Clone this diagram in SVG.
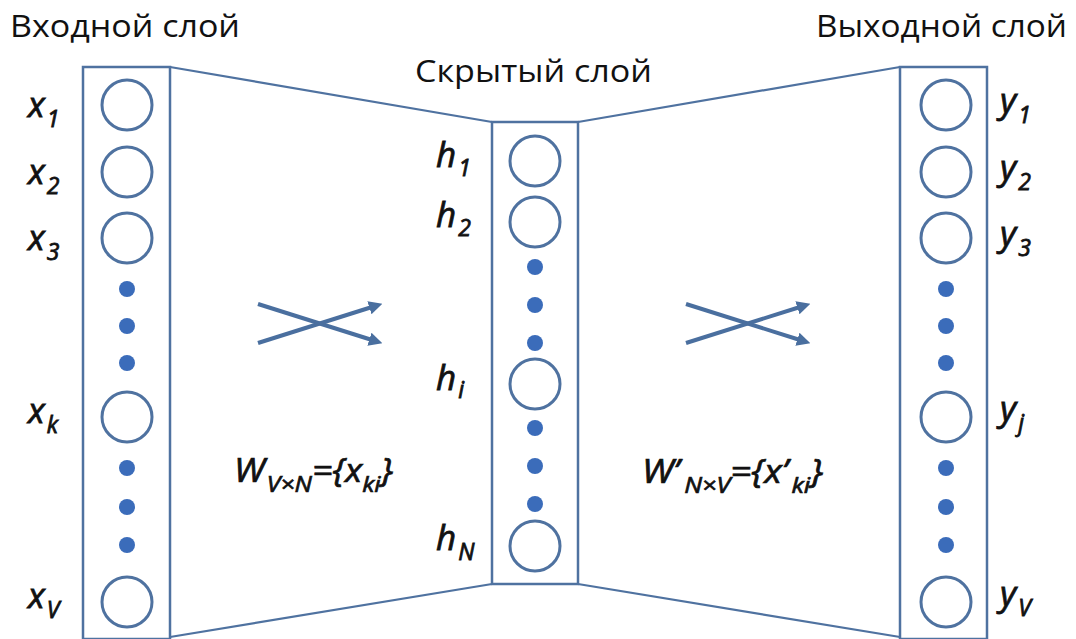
<svg xmlns="http://www.w3.org/2000/svg" width="1076" height="639" viewBox="0 0 1076 639">
<style>
.box{fill:none;stroke:#4f72a0;stroke-width:2.5}
.neuron{fill:#fff;stroke:#4f72a0;stroke-width:3}
.dot{fill:#3b6cba}
.conn{fill:none;stroke:#4f72a0;stroke-width:2.2}
.arr{fill:none;stroke:#4a6f9f;stroke-width:4;marker-end:url(#ah)}
.title{font-family:"Open Sans","Liberation Sans",sans-serif;font-size:31px;fill:#111}
.lab{font-family:"Open Sans","Liberation Sans",sans-serif;font-style:italic;font-size:35px;fill:#111;stroke:#111;stroke-width:0.8}
.sub{font-size:23px}
.f{font-family:"Open Sans","Liberation Sans",sans-serif;font-style:italic;font-size:32px;fill:#111;stroke:#111;stroke-width:0.7}
.fs{font-size:22px}
</style>
<defs>
<marker id="ah" viewBox="0 0 10 10" refX="2" refY="5" markerWidth="3.4" markerHeight="3.4" orient="auto" markerUnits="strokeWidth">
<path d="M0,0 L10,5 L0,10 z" fill="#4a6f9f"/>
</marker>
</defs>
<rect width="1076" height="639" fill="#fff"/>

<text class="title" x="10" y="37" textLength="230" lengthAdjust="spacingAndGlyphs">Входной слой</text>
<text class="title" x="415" y="82" textLength="237" lengthAdjust="spacingAndGlyphs">Скрытый слой</text>
<text class="title" x="816" y="37" textLength="251" lengthAdjust="spacingAndGlyphs">Выходной слой</text>

<g id="connectors">
<line class="conn" x1="170" y1="67" x2="492" y2="122"/>
<line class="conn" x1="170" y1="637" x2="492" y2="584"/>
<line class="conn" x1="578" y1="122" x2="900" y2="67"/>
<line class="conn" x1="578" y1="584" x2="900" y2="637"/>
<line class="arr" x1="258" y1="304" x2="372" y2="340"/>
<line class="arr" x1="258" y1="343" x2="372" y2="307"/>
<line class="arr" x1="686" y1="304" x2="800" y2="340"/>
<line class="arr" x1="686" y1="343" x2="800" y2="307"/>
</g>

<g id="input-layer">
<rect class="box" x="83" y="67" width="87" height="572"/>
<g id="x1"><circle class="neuron" cx="127" cy="105" r="25"/><text class="lab" x="28" y="117">x<tspan class="sub" dx="2" dy="10">1</tspan></text></g>
<g id="x2"><circle class="neuron" cx="127" cy="172" r="25"/><text class="lab" x="28" y="184">x<tspan class="sub" dx="2" dy="10">2</tspan></text></g>
<g id="x3"><circle class="neuron" cx="127" cy="238" r="25"/><text class="lab" x="28" y="250">x<tspan class="sub" dx="2" dy="10">3</tspan></text></g>
<circle class="dot" cx="127" cy="289" r="8"/>
<circle class="dot" cx="127" cy="326" r="8"/>
<circle class="dot" cx="127" cy="363" r="8"/>
<g id="xk"><circle class="neuron" cx="127" cy="417" r="25"/><text class="lab" x="28" y="423">x<tspan class="sub" dx="2" dy="10">k</tspan></text></g>
<circle class="dot" cx="127" cy="468" r="8"/>
<circle class="dot" cx="127" cy="507" r="8"/>
<circle class="dot" cx="127" cy="545" r="8"/>
<g id="xV"><circle class="neuron" cx="127" cy="602" r="25"/><text class="lab" x="28" y="608">x<tspan class="sub" dx="2" dy="10">V</tspan></text></g>
</g>

<g id="hidden-layer">
<rect class="box" x="492" y="122" width="86" height="462"/>
<g id="h1"><circle class="neuron" cx="535" cy="161" r="25"/><text class="lab" x="436" y="167">h<tspan class="sub" dx="2" dy="9">1</tspan></text></g>
<g id="h2"><circle class="neuron" cx="535" cy="222" r="25"/><text class="lab" x="436" y="227">h<tspan class="sub" dx="2" dy="9">2</tspan></text></g>
<circle class="dot" cx="535" cy="267" r="8"/>
<circle class="dot" cx="535" cy="305" r="8"/>
<circle class="dot" cx="535" cy="343" r="8"/>
<g id="hi"><circle class="neuron" cx="535" cy="384" r="25"/><text class="lab" x="436" y="390">h<tspan class="sub" dx="2" dy="8">i</tspan></text></g>
<circle class="dot" cx="535" cy="428" r="8"/>
<circle class="dot" cx="535" cy="466" r="8"/>
<circle class="dot" cx="535" cy="504" r="8"/>
<g id="hN"><circle class="neuron" cx="535" cy="546" r="25"/><text class="lab" x="436" y="550">h<tspan class="sub" dx="2" dy="10">N</tspan></text></g>
</g>

<g id="output-layer">
<rect class="box" x="900" y="67" width="87" height="572"/>
<g id="y1"><circle class="neuron" cx="946" cy="105" r="25"/><text class="lab" x="1000" y="113">y<tspan class="sub" dx="2" dy="10">1</tspan></text></g>
<g id="y2"><circle class="neuron" cx="946" cy="172" r="25"/><text class="lab" x="1000" y="180">y<tspan class="sub" dx="2" dy="10">2</tspan></text></g>
<g id="y3"><circle class="neuron" cx="946" cy="238" r="25"/><text class="lab" x="1000" y="246">y<tspan class="sub" dx="2" dy="10">3</tspan></text></g>
<circle class="dot" cx="946" cy="289" r="8"/>
<circle class="dot" cx="946" cy="326" r="8"/>
<circle class="dot" cx="946" cy="363" r="8"/>
<g id="yj"><circle class="neuron" cx="946" cy="417" r="25"/><text class="lab" x="1000" y="421">y<tspan class="sub" dx="2" dy="10">j</tspan></text></g>
<circle class="dot" cx="946" cy="468" r="8"/>
<circle class="dot" cx="946" cy="507" r="8"/>
<circle class="dot" cx="946" cy="545" r="8"/>
<g id="yV"><circle class="neuron" cx="946" cy="602" r="25"/><text class="lab" x="1000" y="606">y<tspan class="sub" dx="2" dy="10">V</tspan></text></g>
</g>

<g id="weights-in">
<text class="f" x="234" y="482" textLength="159" lengthAdjust="spacingAndGlyphs">W<tspan class="fs" dx="2" dy="10">V×N</tspan><tspan dy="-10">={x</tspan><tspan class="fs" dy="10">ki</tspan><tspan dy="-10">}</tspan></text>
</g>
<g id="weights-out">
<text class="f" x="642" y="483" textLength="181" lengthAdjust="spacingAndGlyphs">W’<tspan class="fs" dx="4" dy="10">N×V</tspan><tspan dy="-10">={x’</tspan><tspan class="fs" dx="3" dy="10">ki</tspan><tspan dy="-10">}</tspan></text>
</g>
</svg>
